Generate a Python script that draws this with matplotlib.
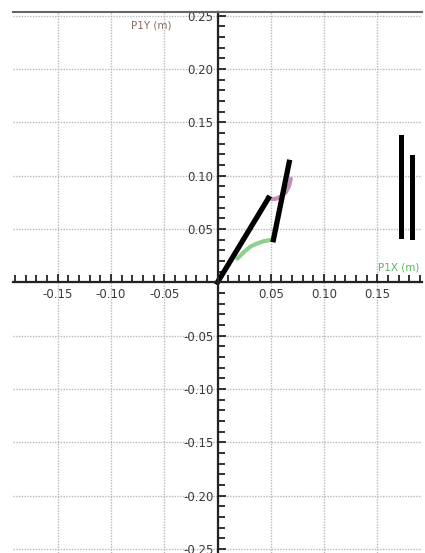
import matplotlib.pyplot as plt
import numpy as np
from matplotlib.ticker import MultipleLocator, FuncFormatter

# two-link arm pose (m)
link1_x = [0.0, 0.0478]
link1_y = [0.0, 0.0788]
link2_x = [0.0525, 0.0673]
link2_y = [0.0399, 0.1124]

# traces
pink_x = [0.0470, 0.0510, 0.0547, 0.0600, 0.0642, 0.0670, 0.0689]
pink_y = [0.0795, 0.0780, 0.0782, 0.0805, 0.0844, 0.0900, 0.0969]
green_x = [0.0186, 0.0250, 0.0311, 0.0375, 0.0437, 0.0490, 0.0525]
green_y = [0.0221, 0.0285, 0.0336, 0.0365, 0.0386, 0.0395, 0.0399]

# vertical bars on the right
bar_x = [0.172, 0.1827]
bar_top = [0.1358, 0.117]
bar_bottom = [0.043, 0.0423]

fig = plt.figure(figsize=(4.25, 5.53), dpi=100)
ax = fig.add_axes([13 / 425, 0, 409 / 425, 541 / 553])
ax.set_xlim(-0.192, 0.192)
ax.set_ylim(-0.2537, 0.2533)

ax.spines['left'].set_position('zero')
ax.spines['bottom'].set_position('zero')
ax.spines['right'].set_visible(False)
ax.spines['top'].set_color('#666666')
ax.spines['top'].set_linewidth(1.5)
for s in ['left', 'bottom']:
    ax.spines[s].set_color('#222222')
    ax.spines[s].set_linewidth(1.6)

for axis in [ax.xaxis, ax.yaxis]:
    axis.set_major_locator(MultipleLocator(0.05))
    axis.set_minor_locator(MultipleLocator(0.01))
    axis.set_major_formatter(FuncFormatter(lambda v, p: '' if abs(v) < 1e-9 else f'{v:.2f}'))

ax.tick_params(which='both', direction='in', color='#222222', width=1.3,
               labelsize=8.5, labelcolor='#3a3a3a')
ax.tick_params(which='major', length=6)
ax.tick_params(which='minor', length=5)
ax.tick_params(axis='x', pad=4)
ax.tick_params(axis='y', pad=3)

ax.grid(True, which='major', linestyle=(0, (1, 1)), color='#b8b8b8', linewidth=1.0)
ax.set_axisbelow(True)

ax.plot(green_x, green_y, color='#8fd08f', lw=3, solid_capstyle='round')
ax.plot(pink_x, pink_y, color='#c58fb3', lw=3, solid_capstyle='round')
ax.plot(link1_x, link1_y, color='black', lw=3.8)
ax.plot(link2_x, link2_y, color='black', lw=3.8)
for x, t, b in zip(bar_x, bar_top, bar_bottom):
    ax.plot([x, x], [b, t], color='black', lw=3.6)

ax.text(-0.043, 0.241, 'P1Y (m)', color='#8a6a5c', fontsize=7.5,
        ha='right', va='center')
ax.text(0.151, 0.0134, 'P1X (m)', color='#5cb85c', fontsize=7.5,
        ha='left', va='center')

plt.savefig('out.png', dpi=100)
